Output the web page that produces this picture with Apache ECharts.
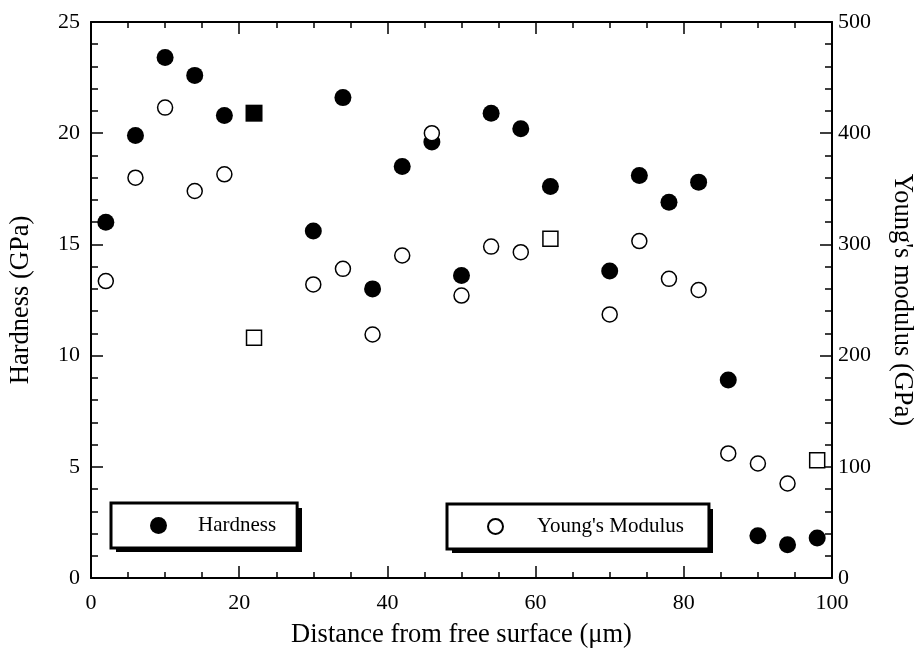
<!DOCTYPE html>
<html>
<head>
<meta charset="utf-8">
<title>Hardness and Young's modulus</title>
<script src="https://cdn.jsdelivr.net/npm/echarts@6/dist/echarts.min.js"></script>
<style>
  html, body { margin: 0; padding: 0; background: #fff; }
  #main { width: 915px; height: 650px; }
</style>
</head>
<body>
<div id="main"></div>
<script>
// distance from free surface (um)
const distance = [2, 6, 10, 14, 18, 22, 30, 34, 38, 42, 46, 50, 54, 58, 62, 70, 74, 78, 82, 86, 90, 94, 98]
// hardness (GPa), filled markers, left axis
const hardness = [16.0, 19.9, 23.4, 22.6, 20.8, 20.9, 15.6, 21.6, 13.0, 18.5, 19.6, 13.6, 20.9, 20.2, 17.6, 13.8, 18.1, 16.9, 17.8, 8.9, 1.9, 1.5, 1.8]
// young's modulus (GPa), open markers, right axis
const modulus = [267, 360, 423, 348, 363, 216, 264, 278, 219, 290, 400, 254, 298, 293, 305, 237, 303, 269, 259, 112, 103, 85, 106]

// a few points in the original are drawn as squares
const squareHardness = [22]
const squareModulus = [22, 62, 98]

const serif = 'Liberation Serif'

function points(values, squares) {
  return values.map((v, i) => ({
    value: [distance[i], v],
    symbol: squares.includes(distance[i]) ? 'rect' : 'circle'
  }))
}

let xAxisBase = {
  type: 'value',
  min: 0,
  max: 100,
  interval: 20,
  axisLine: { onZero: false, lineStyle: { color: '#000', width: 2 } },
  axisTick: { inside: true, length: 12, lineStyle: { color: '#000', width: 1.5 } },
  minorTick: { show: true, splitNumber: 4, length: 6, lineStyle: { color: '#000', width: 1.5 } },
  splitLine: { show: false }
}

let yAxisBase = {
  type: 'value',
  axisLine: { show: true, onZero: false, lineStyle: { color: '#000', width: 2 } },
  axisTick: { show: true, inside: true, length: 12, lineStyle: { color: '#000', width: 1.5 } },
  minorTick: { show: true, splitNumber: 5, length: 7, lineStyle: { color: '#000', width: 1.5 } },
  splitLine: { show: false },
  nameLocation: 'middle',
  nameTextStyle: { fontFamily: serif, fontSize: 26.5, color: '#000' }
}

let legendBase = {
  orient: 'horizontal',
  selectedMode: false,
  backgroundColor: '#fff',
  borderColor: '#000',
  borderWidth: 3,
  borderRadius: 0
}

let chart = echarts.init(document.getElementById('main'))
window.onresize = chart.resize

chart.setOption({
  animation: false,
  backgroundColor: '#fff',
  grid: { left: 91, right: 83, top: 22, bottom: 72, containLabel: false, outerBoundsMode: 'none' },
  // drop shadows of the two legend boxes
  graphic: [
    { type: 'rect', z: 3, shape: { x: 116, y: 508, width: 186, height: 44 }, style: { fill: '#000' } },
    { type: 'rect', z: 3, shape: { x: 452, y: 509, width: 261, height: 44 }, style: { fill: '#000' } }
  ],
  legend: [
    Object.assign({}, legendBase, {
      data: ['Hardness'],
      left: 111,
      top: 503,
      itemWidth: 17,
      itemHeight: 17,
      padding: [12, 21, 12, 39],
      textStyle: { fontFamily: serif, fontSize: 21, color: '#000', padding: [0, 0, 0, 26] }
    }),
    Object.assign({}, legendBase, {
      data: ["Young's Modulus"],
      left: 447,
      top: 504,
      itemWidth: 15,
      itemHeight: 15,
      padding: [12, 25, 12, 40],
      textStyle: { fontFamily: serif, fontSize: 21, color: '#000', padding: [0, 0, 0, 29] }
    })
  ],
  xAxis: [
    Object.assign({}, xAxisBase, {
      position: 'bottom',
      name: 'Distance from free surface (\u03bcm)',
      nameLocation: 'middle',
      nameGap: 44,
      nameTextStyle: { fontFamily: serif, fontSize: 26.5, color: '#000' },
      axisLabel: { fontFamily: serif, fontSize: 22, color: '#000', margin: 14 }
    }),
    Object.assign({}, xAxisBase, {
      position: 'top',
      axisLabel: { show: false }
    })
  ],
  yAxis: [
    Object.assign({}, yAxisBase, {
      position: 'left',
      min: 0,
      max: 25,
      interval: 5,
      name: 'Hardness (GPa)',
      nameRotate: 90,
      nameGap: 56,
      axisLabel: { fontFamily: serif, fontSize: 22, color: '#000', margin: 11 }
    }),
    Object.assign({}, yAxisBase, {
      position: 'right',
      min: 0,
      max: 500,
      interval: 100,
      name: "Young's modulus (GPa)",
      nameRotate: -90,
      nameGap: 56,
      axisLabel: { fontFamily: serif, fontSize: 22, color: '#000', margin: 6 }
    })
  ],
  series: [
    {
      name: 'Hardness',
      type: 'scatter',
      xAxisIndex: 0,
      yAxisIndex: 0,
      symbolSize: 17,
      itemStyle: { color: '#000', opacity: 1 },
      data: points(hardness, squareHardness)
    },
    {
      name: "Young's Modulus",
      type: 'scatter',
      xAxisIndex: 0,
      yAxisIndex: 1,
      symbolSize: 15,
      itemStyle: { color: '#fff', borderColor: '#000', borderWidth: 1.5, opacity: 1 },
      data: points(modulus, squareModulus)
    }
  ]
})
</script>
</body>
</html>
